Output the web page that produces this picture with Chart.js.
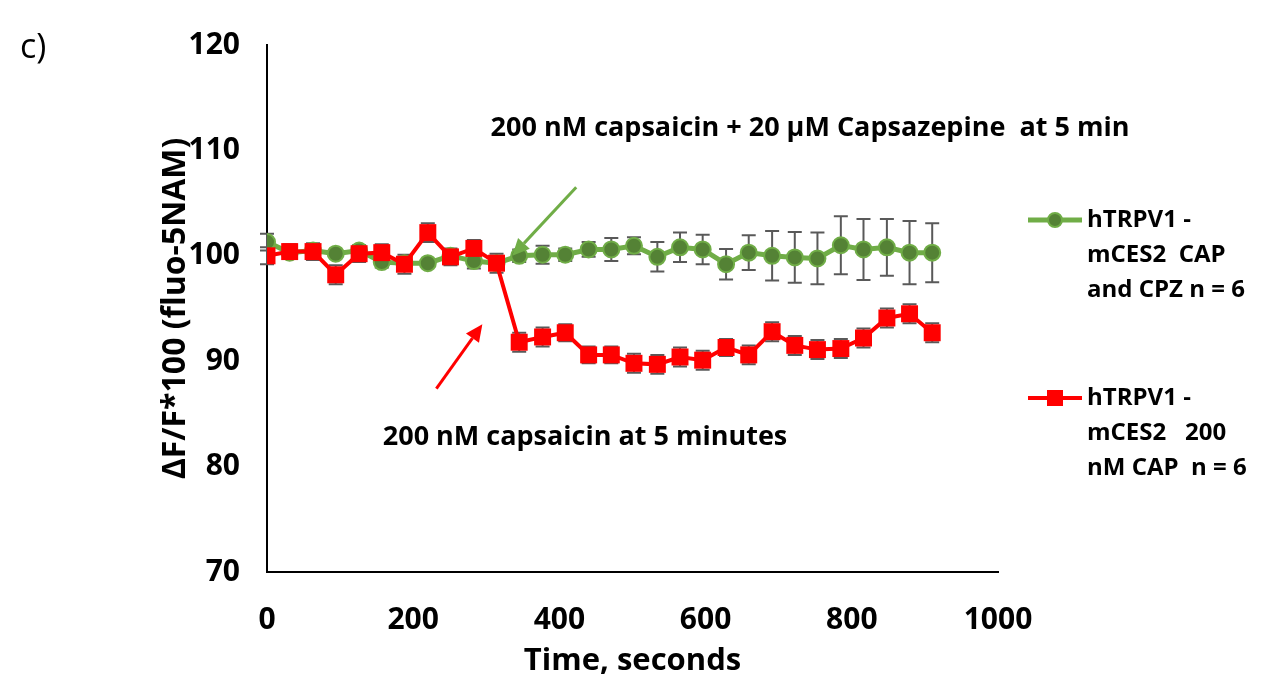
<!DOCTYPE html>
<html>
<head>
<meta charset="utf-8">
<script src="https://cdn.jsdelivr.net/npm/chart.js@4.4.0/dist/chart.umd.min.js"></script>
<style>
  html, body { margin: 0; padding: 0; background: #fff; }
</style>
</head>
<body>
<canvas id="calciumChart" width="1281" height="687"></canvas>
<script>
// time points (seconds)
const times = [0, 31, 63, 94, 126, 157, 188, 220, 251, 283, 314, 345, 377, 408, 440,
               471, 502, 534, 565, 596, 628, 659, 691, 722, 753, 785, 816, 848, 879, 910];

// hTRPV1 - mCES2, capsaicin + capsazepine
const capCpzMean = [101.3, 100.3, 100.5, 100.2, 100.5, 99.4, 99.3, 99.3, 100.0, 99.5,
                    99.3, 100.0, 100.1, 100.1, 100.6, 100.6, 100.95, 99.9, 100.8, 100.6,
                    99.2, 100.3, 100.0, 99.85, 99.75, 101.0, 100.6, 100.8, 100.3, 100.3];
const capCpzErr = [0.8, 0.5, 0.6, 0.3, 0.4, 0.5, 0.4, 0.3, 0.5, 0.7,
                   0.5, 0.6, 0.85, 0.6, 0.7, 1.1, 0.8, 1.4, 1.4, 1.4,
                   1.45, 1.65, 2.35, 2.4, 2.45, 2.75, 2.9, 2.7, 3.0, 2.8];

// hTRPV1 - mCES2, 200 nM capsaicin
const capMean = [100.0, 100.4, 100.4, 98.2, 100.2, 100.3, 99.2, 102.2, 99.9, 100.7,
                 99.3, 91.8, 92.3, 92.7, 90.6, 90.6, 89.8, 89.7, 90.4, 90.1,
                 91.3, 90.6, 92.8, 91.5, 91.1, 91.2, 92.2, 94.1, 94.5, 92.7];
const capErr = [0.8, 0.7, 0.8, 0.9, 0.8, 0.8, 0.9, 0.9, 0.8, 0.8,
                0.9, 0.9, 0.9, 0.8, 0.8, 0.8, 0.9, 0.9, 0.9, 0.9,
                0.8, 0.9, 0.9, 0.9, 0.9, 0.9, 0.9, 0.9, 0.9, 0.9];

const xTicks = [0, 200, 400, 600, 800, 1000];
const yTicks = [70, 80, 90, 100, 110, 120];

const legendCapCpz = ['hTRPV1 -', 'mCES2  CAP', 'and CPZ n = 6'];
const legendCap = ['hTRPV1 -', 'mCES2   200', 'nM CAP  n = 6'];

const GREEN_LINE = '#70AD47';
const GREEN_FILL = '#548235';
const RED = '#FF0000';
const FONT = '"Open Sans", Lato, sans-serif';

// error bars drawn behind the markers
const errorBars = {
    id: 'errorBars',
    beforeDatasetsDraw(chart) {
        const { ctx, scales: { x, y } } = chart;
        const sets = [[capCpzMean, capCpzErr], [capMean, capErr]];
        ctx.save();
        ctx.strokeStyle = '#595959';
        ctx.lineWidth = 2;
        sets.forEach(([means, errs]) => {
            times.forEach((t, i) => {
                const px = x.getPixelForValue(t);
                const top = y.getPixelForValue(means[i] + errs[i]);
                const bot = y.getPixelForValue(means[i] - errs[i]);
                ctx.beginPath();
                ctx.moveTo(px, top); ctx.lineTo(px, bot);
                ctx.moveTo(px - 7, top); ctx.lineTo(px + 7, top);
                ctx.moveTo(px - 7, bot); ctx.lineTo(px + 7, bot);
                ctx.stroke();
            });
        });
        ctx.restore();
    }
};

function drawArrow(ctx, x1, y1, x2, y2, color) {
    const ang = Math.atan2(y2 - y1, x2 - x1);
    const head = 17, wing = 8;
    const bx = x2 - head * Math.cos(ang), by = y2 - head * Math.sin(ang);
    ctx.strokeStyle = color;
    ctx.fillStyle = color;
    ctx.lineWidth = 3;
    ctx.beginPath();
    ctx.moveTo(x1, y1); ctx.lineTo(bx, by);
    ctx.stroke();
    ctx.beginPath();
    ctx.moveTo(x2, y2);
    ctx.lineTo(bx + wing * Math.sin(ang), by - wing * Math.cos(ang));
    ctx.lineTo(bx - wing * Math.sin(ang), by + wing * Math.cos(ang));
    ctx.closePath();
    ctx.fill();
}

// annotations, legend and panel letter
const extras = {
    id: 'extras',
    afterDraw(chart) {
        const { ctx, scales: { x, y } } = chart;
        ctx.save();

        // arrows (in data units)
        drawArrow(ctx, x.getPixelForValue(423), y.getPixelForValue(106.5),
                  x.getPixelForValue(335.6), y.getPixelForValue(100.0), GREEN_LINE);
        drawArrow(ctx, x.getPixelForValue(231.7), y.getPixelForValue(87.4),
                  x.getPixelForValue(294.6), y.getPixelForValue(93.5), RED);

        ctx.fillStyle = '#000';
        ctx.textBaseline = 'middle';
        ctx.font = 'bold 27px ' + FONT;
        ctx.textAlign = 'center';
        ctx.fillText('200 nM capsaicin + 20 µM Capsazepine  at 5 min', 810, 128);
        ctx.fillText('200 nM capsaicin at 5 minutes', 585, 437);

        // panel letter
        ctx.font = '34px ' + FONT;
        ctx.textAlign = 'left';
        ctx.fillText('c)', 20, 48);

        // legend
        const entries = [
            { lines: legendCapCpz, y0: 220, color: GREEN_LINE, width: 5, marker: 'circle' },
            { lines: legendCap, y0: 398, color: RED, width: 4, marker: 'rect' }
        ];
        entries.forEach(e => {
            ctx.strokeStyle = e.color;
            ctx.lineWidth = e.width;
            ctx.beginPath();
            ctx.moveTo(1028, e.y0); ctx.lineTo(1082, e.y0);
            ctx.stroke();
            if (e.marker === 'circle') {
                ctx.fillStyle = GREEN_FILL;
                ctx.lineWidth = 2;
                ctx.beginPath();
                ctx.arc(1055, e.y0, 7, 0, Math.PI * 2);
                ctx.fill(); ctx.stroke();
            } else {
                ctx.fillStyle = RED;
                ctx.fillRect(1047, e.y0 - 8, 16, 16);
            }
            ctx.fillStyle = '#000';
            ctx.font = 'bold 24px ' + FONT;
            ctx.textAlign = 'left';
            e.lines.forEach((t, i) => ctx.fillText(t, 1087, e.y0 + i * 35));
        });
        ctx.restore();
    }
};

const ctx = document.getElementById('calciumChart');
new Chart(ctx, {
    type: 'line',
    data: {
        datasets: [{
            label: legendCap.join(' '),
            data: times.map((t, i) => ({ x: t, y: capMean[i] })),
            borderColor: RED,
            backgroundColor: RED,
            borderWidth: 4,
            pointStyle: 'rect',
            pointRadius: 12,
            pointBorderWidth: 0,
            pointBackgroundColor: RED,
            tension: 0
        }, {
            label: legendCapCpz.join(' '),
            data: times.map((t, i) => ({ x: t, y: capCpzMean[i] })),
            borderColor: GREEN_LINE,
            backgroundColor: GREEN_FILL,
            borderWidth: 5,
            pointStyle: 'circle',
            pointRadius: 8,
            pointBorderWidth: 2,
            pointBorderColor: GREEN_LINE,
            pointBackgroundColor: GREEN_FILL,
            tension: 0
        }]
    },
    options: {
        responsive: false,
        animation: false,
        layout: { padding: { top: 41, right: 283, bottom: 0, left: 0 } },
        plugins: {
            legend: { display: false },
            tooltip: { enabled: false }
        },
        scales: {
            x: {
                type: 'linear',
                min: 0,
                max: 1000,
                afterBuildTicks: s => { s.ticks = xTicks.map(v => ({ value: v })); },
                afterFit: s => { s.height = 115; },
                grid: { display: false, drawTicks: false },
                border: { display: true, color: '#000', width: 2 },
                ticks: {
                    padding: 30,
                    color: '#000',
                    callback: v => String(v),
                    font: { family: FONT, size: 30, weight: 'bold' }
                },
                title: {
                    display: true,
                    text: 'Time, seconds',
                    color: '#000',
                    padding: { top: 7, bottom: 7 },
                    font: { family: FONT, size: 31, weight: 'bold' }
                }
            },
            y: {
                min: 70,
                max: 120,
                afterBuildTicks: s => { s.ticks = yTicks.map(v => ({ value: v })); },
                afterFit: s => { s.width = 267; },
                grid: { display: false, drawTicks: false },
                border: { display: true, color: '#000', width: 2 },
                ticks: {
                    padding: 27,
                    color: '#000',
                    callback: v => String(v),
                    font: { family: FONT, size: 30, weight: 'bold' }
                },
                title: {
                    display: true,
                    text: 'ΔF/F*100 (fluo-5NAM)',
                    color: '#000',
                    padding: { top: 157, bottom: 0 },
                    font: { family: FONT, size: 32, weight: 'bold' }
                }
            }
        }
    },
    plugins: [errorBars, extras]
});
</script>
</body>
</html>
